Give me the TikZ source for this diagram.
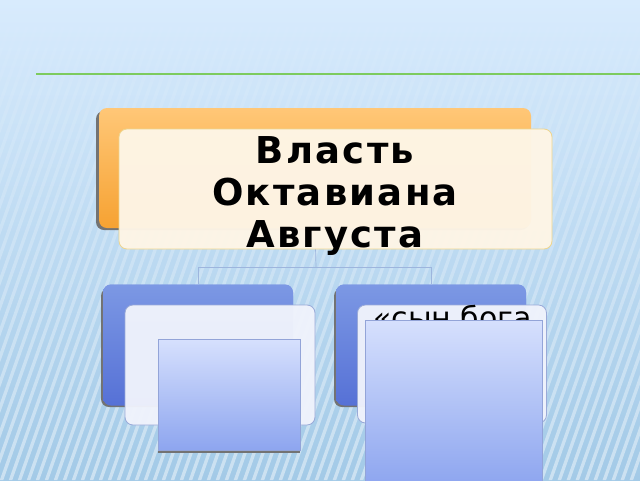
\documentclass[tikz,border=0pt]{standalone}
\usepackage{fontspec}
\setmainfont{DejaVu Sans}
\usetikzlibrary{fadings}
\definecolor{bgtop}{HTML}{D8EBFD}
\definecolor{bgbot}{HTML}{A3CAE7}
\definecolor{greenline}{HTML}{7DCB5E}
\definecolor{orangetop}{HTML}{FFC777}
\definecolor{orangebot}{HTML}{F6A232}
\definecolor{creamfill}{HTML}{FEF5E6}
\definecolor{creamedge}{HTML}{EED58E}
\definecolor{bluetop}{HTML}{7C98E4}
\definecolor{bluebot}{HTML}{5671D6}
\definecolor{whitefill}{HTML}{F0F3FC}
\definecolor{whiteedge}{HTML}{9AAAD8}
\definecolor{sqtop}{HTML}{D6E0FD}
\definecolor{sqbot}{HTML}{8DA5EF}
\definecolor{sqedge}{HTML}{93A4D8}
\definecolor{linkcol}{HTML}{9DB5DD}
\tikzset{
  backbox/.style={rounded corners=8pt, inner sep=0pt},
  orangebox/.style={backbox, top color=orangetop, bottom color=orangebot},
  bluebox/.style={backbox, top color=bluetop, bottom color=bluebot},
  creambox/.style={backbox, fill=creamfill, fill opacity=0.97, draw=creamedge, line width=0.8pt},
  frontbox/.style={backbox, fill=whitefill, fill opacity=0.96, draw=whiteedge, line width=0.8pt},
  gradsq/.style={inner sep=0pt, top color=sqtop, bottom color=sqbot, draw=sqedge, line width=0.6pt},
  shadowbox/.style={rounded corners=8pt, fill=black!55},
  link/.style={draw=linkcol, line width=0.7pt},
}
\begin{document}
\begin{tikzpicture}[x=1pt,y=-1pt]
\useasboundingbox (0,0) rectangle (640,480);
% background
\shade[top color=bgtop, bottom color=bgbot] (0,0) rectangle (640,480);
\begin{scope}
\clip (0,0) rectangle (640,480);
\fill[white, opacity=0.45, path fading=north]
  \foreach \i in {-20,...,70} { (\i*9,480) -- ++(3.5,0) -- ++(170,-480) -- ++(-3.5,0) -- cycle };
\end{scope}
\draw[greenline, line width=1.6pt] (36,74) -- (640,74);

% top pair
\fill[shadowbox] (96,111) rectangle (529,230);
\node[orangebox, minimum width=432pt, minimum height=120pt] (orange) at (315,168) {};
\node[bluebox, minimum width=190pt, minimum height=121pt] (lblue) at (198,345) {};
\node[bluebox, minimum width=190pt, minimum height=121pt] (rblue) at (431,345) {};
\coordinate (junc) at (316,267);
\draw[link] (orange.south) -- (junc);
\draw[link] (lblue.north |- junc) -- (rblue.north |- junc);
\draw[link] (lblue.north |- junc) -- (lblue.north);
\draw[link] (rblue.north |- junc) -- (rblue.north);
\node[creambox, minimum width=433pt, minimum height=120pt] (cream) at (335.5,189) {};
\node[align=center, inner sep=0pt, font=\bfseries\fontsize{37}{42}\selectfont\addfontfeature{LetterSpace=6}] (title) at (335,196) {Власть\\Октавиана\\Августа};

% left lower group
\fill[shadowbox] (101,288) rectangle (291,407);
\node[bluebox, minimum width=190pt, minimum height=121pt] at (198,345) {};
\node[frontbox, minimum width=190pt, minimum height=120pt] (lwhite) at (220,365) {};
\fill[black!55] (158,342) rectangle (300,453);
\node[gradsq, minimum width=142pt, minimum height=111pt] (lsq) at (229,395) {};

% right lower group
\fill[shadowbox] (334,288) rectangle (524,407);
\node[bluebox, minimum width=190pt, minimum height=121pt] at (431,345) {};
\node[frontbox, minimum width=189pt, minimum height=118pt] (rwhite) at (452,364) {};
\node[anchor=base west, inner sep=0pt, font=\fontsize{30}{34}\selectfont] (rtext) at (373,328) {«сын бога};
\node[gradsq, minimum width=177pt, minimum height=166pt] (rsq) at (453.5,403) {};
\end{tikzpicture}
\end{document}
